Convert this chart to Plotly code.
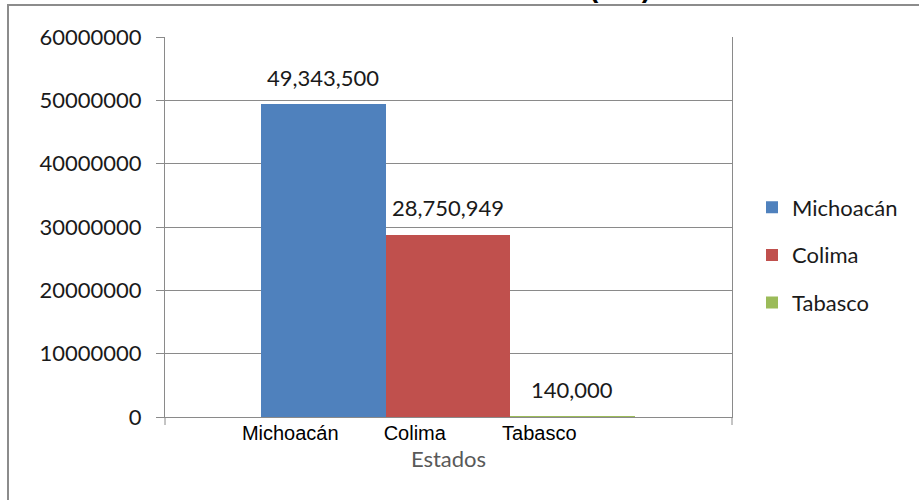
import plotly.graph_objects as go

# Producción por estado
estados = ["Michoacán", "Colima", "Tabasco"]
valores = [49343500, 28750949, 140000]
colores = ["#4F81BD", "#C0504D", "#9BBB59"]

y_ticks = [0, 10000000, 20000000, 30000000, 40000000, 50000000, 60000000]
titulo = "<b>(ton)</b>"
eje_x = "Estados"

GRID = "#8A8A8A"
LBL_FONT = "Lato, 'Open Sans', sans-serif"

fig = go.Figure()
for estado, valor, color in zip(estados, valores, colores):
    fig.add_trace(go.Bar(
        x=[estado], y=[valor], name=estado,
        marker=dict(color=color, line=dict(width=0)),
        legendgroup=estado, width=1.0,
    ))
    fig.add_annotation(
        x=estado, y=valor, xref="x", yref="y",
        text=f"{valor:,}", showarrow=False,
        yanchor="middle", yshift=27,
        font=dict(family=LBL_FONT, size=22, color="#1a1a1a"),
    )

# título (queda recortado en la parte superior)
fig.add_annotation(
    x=(620 - 165) / 567, y=1, xref="paper", yref="paper",
    text=titulo, showarrow=False, xanchor="center", yanchor="bottom",
    yshift=32,
    font=dict(family="Liberation Sans, Arial, sans-serif", size=28, color="#000000"),
)

# marco exterior del gráfico
fig.add_shape(type="rect", xref="paper", yref="paper",
              x0=(8 - 165) / 567, x1=2.0, y0=-1.0, y1=(417 - 5) / 380,
              line=dict(color="#8C8C8C", width=2), fillcolor="rgba(0,0,0,0)",
              layer="above")

# marcas de división del eje de categorías
for xp in (0, 1):
    fig.add_shape(type="line", xref="paper", yref="paper",
                  x0=xp, x1=xp, y0=-8 / 380, y1=0,
                  line=dict(color=GRID, width=1))

fig.update_layout(
    width=919, height=500,
    margin=dict(l=165, r=187, t=37, b=83),
    paper_bgcolor="white", plot_bgcolor="white",
    barmode="overlay", bargap=0,
    showlegend=True,
    legend=dict(
        x=(752 - 165) / 567, xanchor="left",
        y=(417 - 255) / 380, yanchor="middle",
        font=dict(family=LBL_FONT, size=22, color="#1a1a1a"),
        tracegroupgap=16, bgcolor="rgba(0,0,0,0)",
    ),
    xaxis=dict(
        type="category", categoryorder="array", categoryarray=estados,
        range=[-1.271, 3.283],
        showgrid=False, showline=True, linecolor=GRID, linewidth=1,
        ticks="", ticklabelshift=-33, ticklabelstandoff=-2,
        tickfont=dict(family="Liberation Sans, Arial, sans-serif", size=20, color="#000000"),
        title=dict(text=eje_x, standoff=8,
                   font=dict(family=LBL_FONT, size=22, color="#595959")),
        fixedrange=True,
    ),
    yaxis=dict(
        range=[0, 60000000], tickvals=y_ticks, tickformat="d",
        showgrid=True, gridcolor=GRID, gridwidth=1,
        zeroline=True, zerolinecolor=GRID, zerolinewidth=1,
        showline=True, mirror=True, linecolor=GRID, linewidth=1,
        ticks="outside", ticklen=8, tickcolor=GRID, ticklabelstandoff=10,
        tickfont=dict(family=LBL_FONT, size=22, color="#1a1a1a"),
        fixedrange=True,
    ),
)

fig.write_html("out.html")
